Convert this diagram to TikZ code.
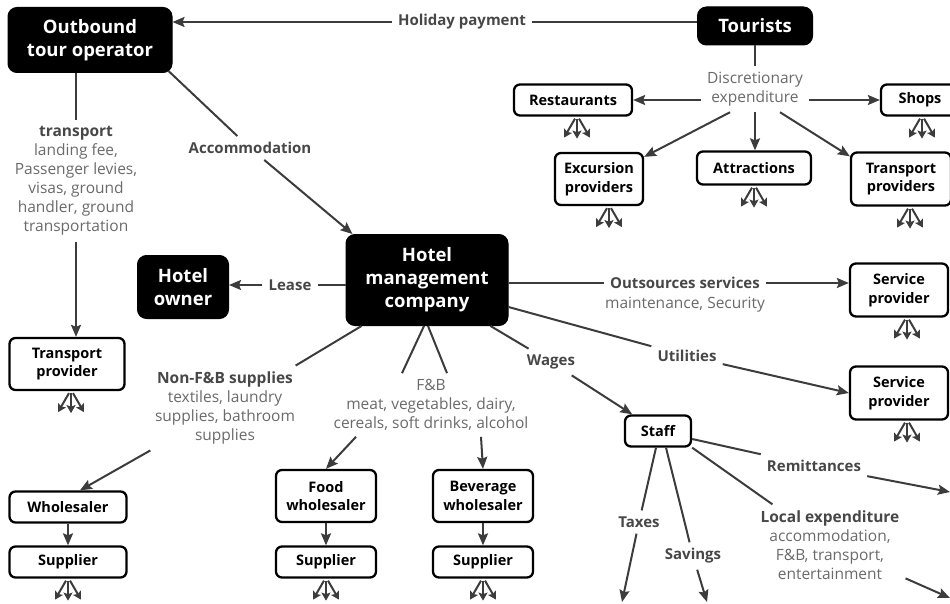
\documentclass[tikz,border=0pt]{standalone}
\usepackage{fontspec}
\setmainfont{Open Sans}
\usetikzlibrary{arrows.meta,calc}
\definecolor{linkcol}{HTML}{3C3C3C}
\definecolor{boldtxt}{HTML}{474747}
\definecolor{softtxt}{HTML}{6A6A6A}
\tikzset{
  fan/.pic={
    \draw[fanarr] (-2,0) -- (-13,19);
    \draw[fanarr] (0,0) -- (0,20);
    \draw[fanarr] (2,0) -- (13,19);
  },
}
\begin{document}
\begin{tikzpicture}[x=1pt,y=-1pt,
  every node/.style={align=center},
  darkbox/.style={fill=black, draw=black, line width=1pt, rounded corners=9pt,
    text=white, inner sep=0pt, font=\bfseries\fontsize{18.5}{23.5}\selectfont},
  lightbox/.style={fill=white, draw=black, line width=2.3pt, rounded corners=6pt,
    inner sep=0pt, font=\bfseries\fontsize{14.5}{18.5}\selectfont},
  lbl/.style={text=boldtxt, inner sep=6pt, font=\bfseries\fontsize{15}{19}\selectfont},
  plain/.style={text=softtxt, inner sep=6pt, font=\fontsize{15.5}{19}\selectfont},
  link/.style={draw=linkcol, line width=2pt},
  arr/.style={link, -{Stealth[length=12pt,width=10pt,inset=2pt]}},
  fanarr/.style={draw=linkcol, line width=2pt, -{Stealth[length=8pt,width=9pt,inset=1.5pt]}},
]
\useasboundingbox (0,0) rectangle (950,604);

% ---------- top row: operator and tourists ----------
\node[darkbox, minimum width=164, minimum height=65] (outb) at (90,40) {Outbound\\tour operator};
\node[darkbox, minimum width=115, minimum height=38] (tour) at (755,26) {Tourists};
\node[lbl] (holi) at (462,22) {Holiday payment};
\draw[link] (tour.west |- holi) -- (holi);
\draw[arr] (holi) -- (holi -| outb.east);

% ---------- discretionary spending of tourists ----------
\node[plain] (disc) at (755,89) {Discretionary\\expenditure};
\draw[link] (tour) -- (disc);
\node[lightbox, minimum width=118, minimum height=31] (rest) at (573,100) {Restaurants};
\node[lightbox, minimum width=78, minimum height=31] (shop) at (920,100) {Shops};
\node[lightbox, minimum width=88, minimum height=52] (exc) at (599,179) {Excursion\\providers};
\node[lightbox, minimum width=114, minimum height=33] (attr) at (754,168) {Attractions};
\node[lightbox, minimum width=100, minimum height=53] (tpr) at (901,179) {Transport\\providers};
\draw[arr] (disc.west |- rest) -- (rest);
\draw[arr] (disc.east |- shop) -- (shop);
\draw[arr] ($(disc.south)+(-25,0)$) -- ($(exc.north east)+(0,5)$);
\draw[arr] (disc.south) -- (disc.south |- attr.north);
\draw[arr] ($(disc.south)+(25,0)$) -- ($(tpr.north west)+(0,5)$);

% ---------- hotel management company ----------
\node[darkbox, minimum width=162, minimum height=91, font=\bfseries\fontsize{18.5}{23}\selectfont] (hot) at (427,280) {Hotel\\management\\company};
\node[lbl] (acc) at (250,148) {Accommodation};
\draw[link] ($(outb.south east)+(-4,-2)$) -- (acc);
\draw[arr] (acc) -- ($(hot.north west)+(7,0)$);

\node[darkbox, minimum width=91, minimum height=63] (own) at (183,287) {Hotel\\owner};
\node[lbl] (lease) at (290,285) {Lease};
\draw[link] (hot.west |- lease) -- (lease);
\draw[arr] (lease) -- (lease -| own.east);

% outsourced services and utilities
\node[lightbox, minimum width=98, minimum height=53] (sp1) at (899,290) {Service\\provider};
\node[lightbox, minimum width=98, minimum height=53] (sp2) at (899,393) {Service\\provider};
\node[lbl] (outs) at (685,283) {Outsources services};
\node[plain, anchor=north, inner sep=0pt] (outs2) at ([yshift=-2pt]outs.south) {maintenance, Security};
\draw[link] (hot.east |- outs) -- (outs);
\draw[arr] (outs) -- (outs -| sp1.west);
\node[lbl] (util) at (687,356) {Utilities};
\draw[link] ($(hot.east)+(0,27)$) -- (util);
\draw[arr] (util) -- (sp2.west);

% ---------- staff ----------
\node[lightbox, minimum width=66, minimum height=31] (staff) at (658,431) {Staff};
\node[lbl] (wag) at (551,362) {Wages};
\draw[link] ($(hot.south east)+(-18,0)$) -- (wag);
\draw[arr] (wag) -- (staff);

\coordinate (remend) at (950,492);
\coordinate (locend) at (950,598);
\coordinate (taxend) at (622,602);
\coordinate (savend) at (707,602);
\node[lbl] (rem) at (814,466) {Remittances};
\draw[link] ($(staff.east)+(0,8)$) -- (rem);
\draw[arr] (rem) -- (remend);
\node[plain] (loc) at (830,545) {\textcolor{boldtxt}{\textbf{Local expenditure}}\\accommodation,\\F\&B, transport,\\entertainment};
\draw[link] (staff.south east) -- (loc);
\draw[arr] (loc) -- (locend);
\node[lbl] (tax) at (639,522) {Taxes};
\draw[link] ($(staff.south)+(-2,0)$) -- (tax);
\draw[arr] (tax) -- (taxend);
\node[lbl] (sav) at (693,556) {Savings};
\draw[link] ($(staff.south)+(8,0)$) -- (sav);
\draw[arr] (sav) -- (savend);

% ---------- transport chain of the tour operator ----------
\node[plain] (tlab) at (76,181) {\textcolor{boldtxt}{\textbf{transport}}\\landing fee,\\Passenger levies,\\visas, ground\\handler, ground\\transportation};
\node[lightbox, minimum width=115, minimum height=52] (tpv) at (67,364) {Transport\\provider};
\draw[link] (outb.south -| tlab) -- (tlab);
\draw[arr] (tlab) -- (tlab |- tpv.north);

% ---------- non-food supplies ----------
\node[plain] (nfb) at (225,408) {\textcolor{boldtxt}{\textbf{Non-F\&B supplies}}\\textiles, laundry\\supplies, bathroom\\supplies};
\node[lightbox, minimum width=117, minimum height=31] (whs) at (68,507) {Wholesaler};
\node[lightbox, minimum width=117, minimum height=31] (sup1) at (68,562) {Supplier};
\draw[link] ($(hot.south west)+(16,0)$) -- (nfb);
\draw[arr] (nfb) -- ($(whs.north)+(12,0)$);
\draw[arr] (whs) -- (sup1);

% ---------- food and beverage ----------
\node[plain] (fb) at (431,405) {F\&B\\meat, vegetables, dairy,\\cereals, soft drinks, alcohol};
\node[lightbox, minimum width=100, minimum height=52] (food) at (326,496) {Food\\wholesaler};
\node[lightbox, minimum width=100, minimum height=52] (bev) at (483,496) {Beverage\\wholesaler};
\node[lightbox, minimum width=100, minimum height=31] (sup2) at (326,562) {Supplier};
\node[lightbox, minimum width=100, minimum height=31] (sup3) at (483,562) {Supplier};
\draw[link] ($(hot.south)+(-3,0)$) -- ($(fb.north)+(-29,0)$);
\draw[link] ($(hot.south)+(1,0)$) -- ($(fb.north)+(16,0)$);
\draw[arr] ($(fb.south)+(-75,0)$) -- (food.north);
\draw[arr] ($(fb.south)+(50,0)$) -- (bev.north);
\draw[arr] (food) -- (sup2);
\draw[arr] (bev) -- (sup3);

% ---------- onward spending fans ----------
\pic at ($(rest.south)+(4,2)$) {fan};
\pic at ($(shop.south)+(2,2)$) {fan};
\pic at ($(exc.south)+(10,2)$) {fan};
\pic at ($(attr.south)+(0,2)$) {fan};
\pic at ($(tpr.south)+(9,2)$) {fan};
\pic at ($(sp1.south)+(8,2)$) {fan};
\pic at ($(sp2.south)+(8,2)$) {fan};
\pic at ($(tpv.south)+(4,2)$) {fan};
\pic at ($(sup1.south)+(0,2)$) {fan};
\pic at ($(sup2.south)+(0,2)$) {fan};
\pic at ($(sup3.south)+(0,2)$) {fan};
\end{tikzpicture}
\end{document}
